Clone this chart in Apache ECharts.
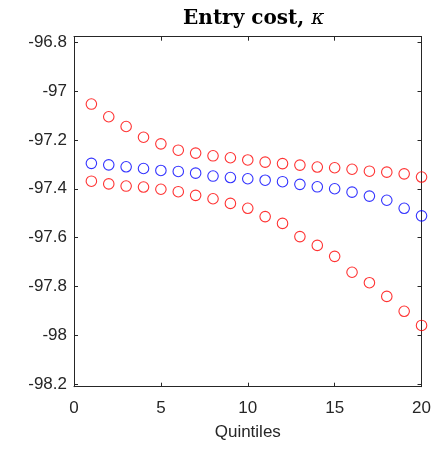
<!DOCTYPE html>
<html>
<head>
<meta charset="utf-8">
<script src="https://cdn.jsdelivr.net/npm/echarts@6/dist/echarts.min.js"></script>
<style>html,body{margin:0;padding:0;background:#fff}#c{width:434px;height:450px}</style>
</head>
<body>
<div id="c"></div>
<script>
const quintiles = [1,2,3,4,5,6,7,8,9,10,11,12,13,14,15,16,17,18,19,20];
const upperRed = [-97.053,-97.105,-97.145,-97.189,-97.216,-97.242,-97.254,-97.265,-97.273,-97.282,
                  -97.291,-97.297,-97.303,-97.311,-97.314,-97.320,-97.328,-97.332,-97.339,-97.352];
const middleBlue = [-97.296,-97.302,-97.310,-97.317,-97.325,-97.329,-97.336,-97.348,-97.354,-97.359,
                    -97.365,-97.371,-97.382,-97.392,-97.400,-97.414,-97.430,-97.447,-97.480,-97.511];
const lowerRed = [-97.369,-97.380,-97.389,-97.393,-97.402,-97.412,-97.427,-97.441,-97.460,-97.480,
                  -97.514,-97.542,-97.596,-97.632,-97.677,-97.742,-97.785,-97.841,-97.902,-97.960];
const yTicks = [-98.2,-98,-97.8,-97.6,-97.4,-97.2,-97,-96.8];
const xTicks = [0,5,10,15,20];
const yRange = [-98.211, -96.777];
const xRange = [0, 20];

const chart = echarts.init(document.getElementById('c'), null, {renderer:'canvas'});
const axisCol = '#262626';
const lblFont = {fontFamily:'Liberation Sans, Arial, sans-serif', fontSize:17, color:axisCol};

function pairs(vals){ return quintiles.map((q,i)=>[q, vals[i]]); }
function sc(vals, col){
  return {type:'scatter', data:pairs(vals), symbol:'circle', symbolSize:10.5, clip:false,
    itemStyle:{color:'rgba(0,0,0,0)', borderColor:col, borderWidth:1.1}, silent:true, z:5};
}
const fmt = v => String(Math.round(v*10)/10);

chart.setOption({
  animation:false,
  title:{
    text:'{b|Entry cost, }{i|κ}', left:248.7, top:4, textAlign:'center',
    textStyle:{rich:{
      b:{fontFamily:'DejaVu Serif, serif', fontWeight:'bold', fontSize:20, color:'#000'},
      i:{fontFamily:'DejaVu Serif, serif', fontStyle:'italic', fontWeight:'normal', fontSize:20, color:'#000'}
    }}
  },
  grid:{left:74, right:10.5, top:36.7, bottom:63.3, containLabel:false},
  xAxis:[
    {type:'value', min:xRange[0], max:xRange[1], interval:5, position:'bottom',
     name:'Quintiles', nameLocation:'middle', nameGap:37,
     nameTextStyle:Object.assign({}, lblFont),
     axisLine:{show:true, onZero:false, lineStyle:{color:axisCol, width:1}},
     axisTick:{show:true, inside:true, length:4, lineStyle:{color:axisCol}},
     axisLabel:Object.assign({margin:13, showMinLabel:true, showMaxLabel:true, customValues:xTicks}, lblFont),
     splitLine:{show:false}},
    {type:'value', min:xRange[0], max:xRange[1], interval:5, position:'top',
     axisLine:{show:true, onZero:false, lineStyle:{color:axisCol, width:1}},
     axisTick:{show:true, inside:true, length:4, lineStyle:{color:axisCol}},
     axisLabel:{show:false}, splitLine:{show:false}}
  ],
  yAxis:[
    {type:'value', min:yRange[0], max:yRange[1], position:'left',
     axisLine:{show:true, onZero:false, lineStyle:{color:axisCol, width:1}},
     axisTick:{show:true, inside:true, length:4, customValues:yTicks, lineStyle:{color:axisCol}},
     axisLabel:Object.assign({margin:7, customValues:yTicks, formatter:fmt}, lblFont),
     splitLine:{show:false}},
    {type:'value', min:yRange[0], max:yRange[1], position:'right',
     axisLine:{show:true, onZero:false, lineStyle:{color:axisCol, width:1}},
     axisTick:{show:true, inside:true, length:4, customValues:yTicks, lineStyle:{color:axisCol}},
     axisLabel:{show:false}, splitLine:{show:false}}
  ],
  series:[ sc(upperRed,'#ff0000'), sc(middleBlue,'#0000ff'), sc(lowerRed,'#ff0000') ]
});
</script>
</body>
</html>
